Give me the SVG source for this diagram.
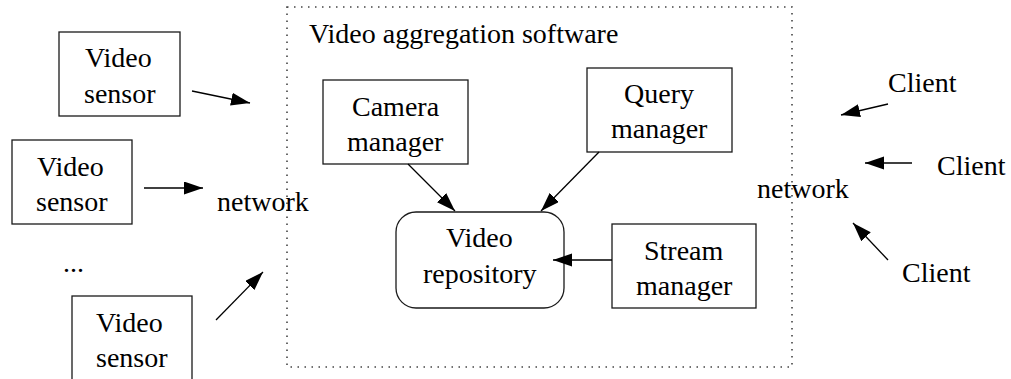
<svg xmlns="http://www.w3.org/2000/svg" width="1011" height="379" viewBox="0 0 1011 379">
<defs>
<marker id="ah" markerUnits="userSpaceOnUse" markerWidth="20" markerHeight="14" refX="19" refY="6.5" orient="auto">
<path d="M0,0 L19,6.5 L0,13 z" fill="#000"/>
</marker>
</defs>
<rect width="1011" height="379" fill="#fff"/>
<g id="software-frame">
<rect x="287" y="7" width="505" height="360" fill="none" stroke="#444" stroke-width="1.6" stroke-dasharray="1.5 5.5"/>
<text x="309" y="43" font-family="Liberation Serif" font-size="28">Video aggregation software</text>
</g>
<g id="sensor1">
<rect x="59" y="32" width="121" height="84" fill="#fff" stroke="#1a1a1a" stroke-width="1.3"/>
<text x="85" y="67" font-family="Liberation Serif" font-size="28">Video</text>
<text x="84" y="103" font-family="Liberation Serif" font-size="28">sensor</text>
</g>
<g id="sensor2">
<rect x="12" y="140" width="120" height="84" fill="#fff" stroke="#1a1a1a" stroke-width="1.3"/>
<text x="37" y="176" font-family="Liberation Serif" font-size="28">Video</text>
<text x="36" y="211" font-family="Liberation Serif" font-size="28">sensor</text>
</g>
<g id="ellipsis"><text x="63" y="272" font-family="Liberation Serif" font-size="28">...</text></g>
<g id="sensor3">
<rect x="72" y="296" width="120" height="90" fill="#fff" stroke="#1a1a1a" stroke-width="1.3"/>
<text x="96" y="332" font-family="Liberation Serif" font-size="28">Video</text>
<text x="96" y="367" font-family="Liberation Serif" font-size="28">sensor</text>
</g>
<g id="network-left"><text x="217" y="211" font-family="Liberation Serif" font-size="28">network</text></g>
<g id="network-right"><text x="757" y="198" font-family="Liberation Serif" font-size="28">network</text></g>
<g id="camera-manager">
<rect x="323" y="80" width="145" height="84" fill="#fff" stroke="#1a1a1a" stroke-width="1.3"/>
<text x="352" y="116" font-family="Liberation Serif" font-size="28">Camera</text>
<text x="347" y="151" font-family="Liberation Serif" font-size="28">manager</text>
</g>
<g id="query-manager">
<rect x="587" y="68" width="145" height="84" fill="#fff" stroke="#1a1a1a" stroke-width="1.3"/>
<text x="624" y="103" font-family="Liberation Serif" font-size="28">Query</text>
<text x="611" y="138" font-family="Liberation Serif" font-size="28">manager</text>
</g>
<g id="video-repository">
<rect x="396" y="212" width="168" height="96" rx="20" ry="20" fill="#fff" stroke="#1a1a1a" stroke-width="1.3"/>
<text x="446" y="247" font-family="Liberation Serif" font-size="28">Video</text>
<text x="423" y="283" font-family="Liberation Serif" font-size="28">repository</text>
</g>
<g id="stream-manager">
<rect x="612" y="224" width="144" height="84" fill="#fff" stroke="#1a1a1a" stroke-width="1.3"/>
<text x="644" y="260" font-family="Liberation Serif" font-size="28">Stream</text>
<text x="636" y="295" font-family="Liberation Serif" font-size="28">manager</text>
</g>
<g id="client1"><text x="888" y="92" font-family="Liberation Serif" font-size="28">Client</text></g>
<g id="client2"><text x="937" y="175" font-family="Liberation Serif" font-size="28">Client</text></g>
<g id="client3"><text x="902" y="282" font-family="Liberation Serif" font-size="28">Client</text></g>
<g id="connectors" stroke="#000" stroke-width="1.3" fill="none" marker-end="url(#ah)">
<line x1="192" y1="91" x2="250" y2="103"/>
<line x1="144" y1="188" x2="203" y2="188"/>
<line x1="216" y1="320" x2="263" y2="272"/>
<line x1="408" y1="164" x2="455" y2="211"/>
<line x1="599" y1="152" x2="541" y2="211"/>
<line x1="612" y1="260" x2="553" y2="260"/>
<line x1="888" y1="104" x2="841" y2="115"/>
<line x1="912" y1="163" x2="865" y2="163"/>
<line x1="888" y1="260" x2="853" y2="223"/>
</g>
</svg>
